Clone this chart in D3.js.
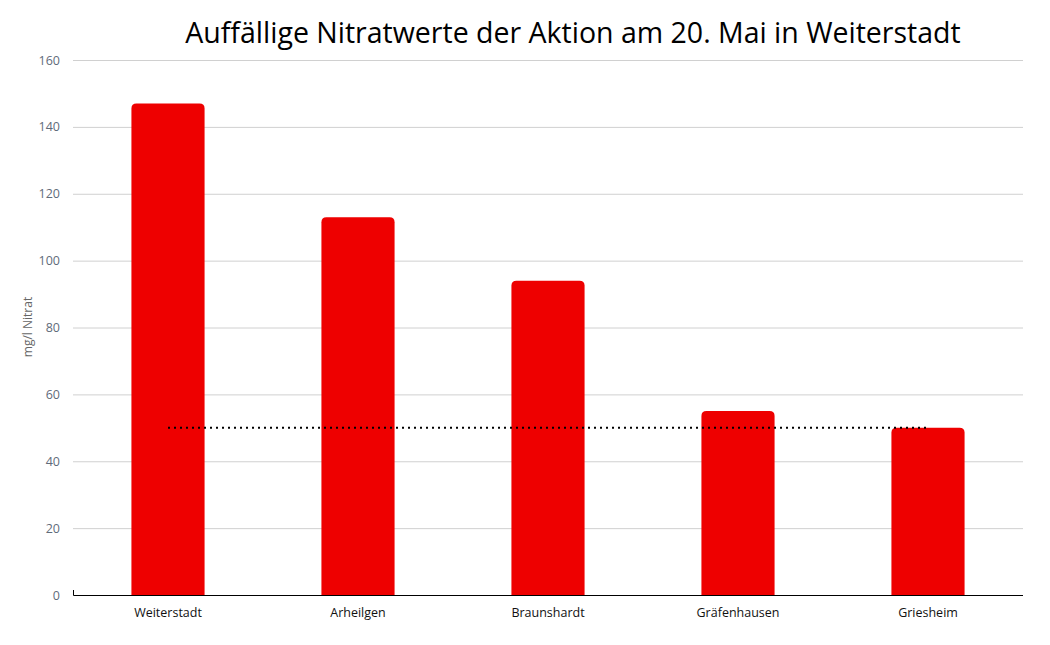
<!DOCTYPE html>
<html>
<head>
<meta charset="utf-8">
<script src="https://cdnjs.cloudflare.com/ajax/libs/d3/7.8.5/d3.min.js"></script>
<style>
  body { margin: 0; background: #fff; }
  text { font-family: "Open Sans", "DejaVu Sans", sans-serif; }
</style>
</head>
<body>
<div id="chart"></div>
<script>
// values
var places = ['Weiterstadt', 'Arheilgen', 'Braunshardt', 'Gräfenhausen', 'Griesheim']
var nitrate = [147, 113, 94, 55, 50]
var limit = [50, 50, 50, 50, 50]
var yTicks = [0, 20, 40, 60, 80, 100, 120, 140, 160]

var width = 1050, height = 645
var margin = {top: 60, right: 27, bottom: 50, left: 73}
var innerW = width - margin.left - margin.right,
  innerH = height - margin.top - margin.bottom

var svg = d3.select('#chart')
  .append('svg')
    .attr('width', width)
    .attr('height', height)

svg.append('text')
  .attr('x', 573)
  .attr('y', 43)
  .attr('text-anchor', 'middle')
  .attr('font-size', 28.5)
  .attr('fill', '#000')
  .text('Auffällige Nitratwerte der Aktion am 20. Mai in Weiterstadt')

var g = svg.append('g')
  .attr('transform', 'translate(' + margin.left + ',' + margin.top + ')')

var x = d3.scaleBand().domain(places).range([0, innerW]).paddingInner(0.615).paddingOuter(0.3075)
var y = d3.scaleLinear().domain([0, 160]).range([innerH, 0])

// grid
g.selectAll('line.grid')
  .data(yTicks.filter(d => d > 0))
  .enter()
  .append('line')
    .attr('class', 'grid')
    .attr('x1', 0)
    .attr('x2', innerW)
    .attr('y1', d => y(d) + 0.5)
    .attr('y2', d => y(d) + 0.5)
    .attr('stroke', '#d0d0d0')
    .attr('stroke-width', 1)

// y axis labels
var yAxis = g.append('g')
  .call(d3.axisLeft(y).tickValues(yTicks).tickSize(0).tickPadding(13))
yAxis.select('.domain').remove()
yAxis.selectAll('text')
  .attr('font-size', 12.5)
  .attr('fill', '#5f6b7a')
  .style('font-family', '"Open Sans", sans-serif')

svg.append('text')
  .attr('transform', 'translate(32,327) rotate(-90)')
  .attr('text-anchor', 'middle')
  .attr('font-size', 12)
  .attr('fill', '#666')
  .text('mg/l Nitrat')

// bars with rounded tops
var r = 5
g.selectAll('path.bar')
  .data(places)
  .enter()
  .append('path')
    .attr('class', 'bar')
    .attr('fill', '#ee0000')
    .attr('d', (d, i) => {
      var x0 = x(d), w = x.bandwidth(), y0 = y(nitrate[i]), b = y(0)
      return 'M' + x0 + ',' + b +
        'V' + (y0 + r) +
        'Q' + x0 + ',' + y0 + ' ' + (x0 + r) + ',' + y0 +
        'H' + (x0 + w - r) +
        'Q' + (x0 + w) + ',' + y0 + ' ' + (x0 + w) + ',' + (y0 + r) +
        'V' + b + 'Z'
    })

// limit line
var line = d3.line()
  .x((d, i) => x(places[i]) + x.bandwidth() / 2)
  .y(d => y(d))
g.append('path')
  .datum(limit)
  .attr('d', line)
  .attr('fill', 'none')
  .attr('stroke', '#000')
  .attr('stroke-width', 2)
  .attr('stroke-dasharray', '2,4')

// x axis
var xAxis = g.append('g')
  .attr('transform', 'translate(0,' + innerH + ')')
  .call(d3.axisBottom(x).tickSize(0).tickPadding(13))
xAxis.select('.domain').attr('stroke', '#000').attr('d', 'M0.5,-5V0.5H' + innerW)
xAxis.selectAll('text')
  .attr('font-size', 12.5)
  .attr('fill', '#111')
  .style('font-family', '"Open Sans", sans-serif')
</script>
</body>
</html>
